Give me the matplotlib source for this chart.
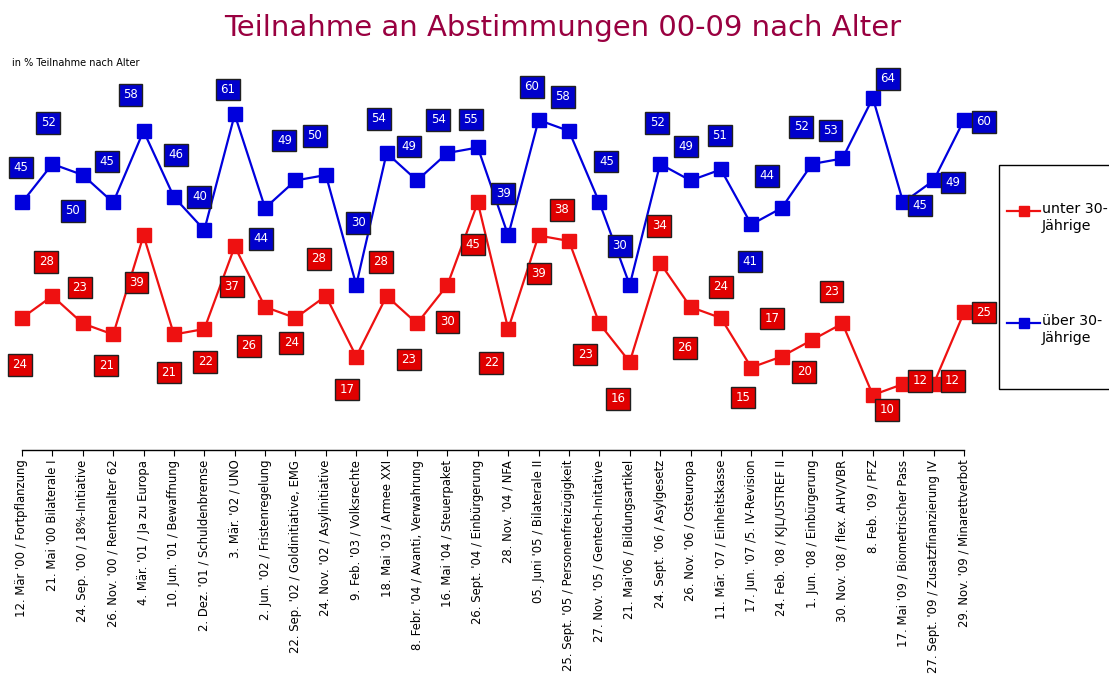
import numpy as np
import matplotlib
matplotlib.use("Agg")
from matplotlib import pyplot as plt
from matplotlib.lines import Line2D
from matplotlib.patches import Rectangle

# categories (vote date / subject)
votes = [
    "12. Mär '00 / Fortpflanzung",
    "21. Mai '00 Bilaterale I",
    "24. Sep. '00 / 18%-Initiative",
    "26. Nov. '00 / Rentenalter 62",
    "4. Mär. '01 / Ja zu Europa",
    "10. Jun. '01 / Bewaffnung",
    "2. Dez. '01 / Schuldenbremse",
    "3. Mär. '02 / UNO",
    "2. Jun. '02 / Fristenregelung",
    "22. Sep. '02 / Goldinitiative, EMG",
    "24. Nov. '02 / Asylinitiative",
    "9. Feb. '03 / Volksrechte",
    "18. Mai '03 / Armee XXI",
    "8. Febr. '04 / Avanti, Verwahrung",
    "16. Mai '04 / Steuerpaket",
    "26. Sept. '04 / Einbürgerung",
    "28. Nov. '04 / NFA",
    "05. Juni '05 / Bilaterale II",
    "25. Sept. '05 / Personenfreizügigkeit",
    "27. Nov. '05 / Gentech-Initative",
    "21. Mai'06 / Bildungsartikel",
    "24. Sept. '06 / Asylgesetz",
    "26. Nov. '06 / Osteuropa",
    "11. Mär. '07 / Einheitskasse",
    "17. Jun. '07 /5. IV-Revision",
    "24. Feb. '08 / KJL/USTREF II",
    "1. Jun. '08 / Einbürgerung",
    "30. Nov. '08 / flex. AHV/VBR",
    "8. Feb. '09 / PFZ",
    "17. Mai '09 / Biometrischer Pass",
    "27. Sept. '09 / Zusatzfinanzierung IV",
    "29. Nov. '09 / Minarettverbot",
]
unter30 = [24, 28, 23, 21, 39, 21, 22, 37, 26, 24, 28, 17, 28, 23, 30, 45,
           22, 39, 38, 23, 16, 34, 26, 24, 15, 17, 20, 23, 10, 12, 12, 25]
ueber30 = [45, 52, 50, 45, 58, 46, 40, 61, 44, 49, 50, 30, 54, 49, 54, 55,
           39, 60, 58, 45, 30, 52, 49, 51, 41, 44, 52, 53, 64, 45, 49, 60]

# label offsets in pixels (dx, dy up) - layout only
off_red = [(-2, -47), (-6, 34), (-3, 36), (-7, -31), (-7, -47), (-5, -38), (1, -33),
           (-3, -40), (-16, -39), (-4, -25), (-7, 37), (-9, -33), (-6, 34), (-8, -36),
           (0, -37), (-5, -42), (-17, -34), (0, -38), (-7, 31), (-14, -31), (-12, -37),
           (-1, 37), (-6, -41), (0, 31), (-8, -30), (-10, 38), (-8, -32), (-11, 32),
           (14, -15), (17, 3), (19, 3), (20, 0)]
off_blue = [(-1, 35), (-4, 41), (-10, -36), (-6, 41), (-13, 36), (2, 42), (-5, 33),
            (-7, 25), (-4, -31), (-11, 40), (-11, 39), (2, 62), (-8, 34), (-8, 34),
            (-9, 33), (-7, 28), (-5, 42), (-7, 33), (-6, 34), (7, 41), (-10, 39),
            (-3, 41), (-5, 34), (-1, 34), (-1, -37), (-15, 32), (-11, 37), (-12, 28),
            (15, 19), (17, -3), (19, -2), (20, -2)]

RED = '#ee1111'
BLUE = '#0000dd'
W, H = 1109, 682

fig = plt.figure(figsize=(W/100, H/100), dpi=100)
ax = fig.add_axes([22/W, 1-450/H, (964-22)/W, (450-65)/H])
x = np.arange(len(votes))

ax.plot(x, unter30, color=RED, lw=1.6, marker='s', ms=10, mec=RED, clip_on=False)
ax.plot(x, ueber30, color=BLUE, lw=1.6, marker='s', ms=10, mec=BLUE, clip_on=False)

for i in range(len(votes)):
    for vals, offs, fc in ((unter30, off_red, '#e00000'), (ueber30, off_blue, '#0000cc')):
        ax.annotate(str(vals[i]), (x[i], vals[i]), xytext=offs[i], textcoords='offset pixels',
                    ha='center', va='center', color='white', fontsize=8.5,
                    bbox=dict(boxstyle='square,pad=0.38', fc=fc, ec='#202020', lw=1.0),
                    annotation_clip=False)

ax.set_xlim(0, len(votes)-1)
ax.set_ylim(0, 70)
ax.set_yticks([])
for s in ['left', 'right', 'top']:
    ax.spines[s].set_visible(False)
ax.spines['bottom'].set_linewidth(1.0)
ax.set_xticks(x)
ax.set_xticklabels(votes, rotation=90, fontsize=8.4)
ax.tick_params(axis='x', length=4, width=0.8, pad=3)

fig.text(563/W, 1-28/H, 'Teilnahme an Abstimmungen 00-09 nach Alter', ha='center', va='center',
         fontsize=21, color='#990040')
fig.text(12/W, 1-63/H, 'in % Teilnahme nach Alter', ha='left', va='center', fontsize=7)

# legend drawn by hand
fig.patches.append(Rectangle((999/W, 1-389/H), 130/W, 224/H, transform=fig.transFigure,
                             fc='white', ec='black', lw=1.0))
for yy, col, lab in ((211, RED, 'unter 30-\nJährige'), (323, BLUE, 'über 30-\nJährige')):
    fig.lines.append(Line2D([1007/W, 1040/W], [1-yy/H, 1-yy/H], transform=fig.transFigure,
                            color=col, lw=1.6))
    fig.lines.append(Line2D([1023.5/W], [1-yy/H], transform=fig.transFigure,
                            color=col, marker='s', ms=7, mec=col, ls='none'))
    fig.text(1042/W, 1-(yy-9)/H, lab, ha='left', va='top', fontsize=10.2, linespacing=1.3)

fig.savefig('out.png', dpi=100)
